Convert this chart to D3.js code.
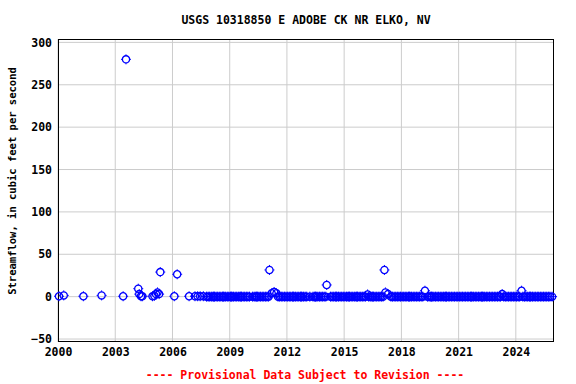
<!DOCTYPE html>
<html>
<head>
<meta charset="utf-8">
<script src="https://cdn.jsdelivr.net/npm/d3@7"></script>
<style>
  body { margin: 0; background: #fff; }
  text { font-family: "DejaVu Sans Mono", monospace; font-weight: bold; font-size: 11.5px; }
</style>
</head>
<body>
<div id="chart"></div>
<script>
'use strict'
// chart size
let width = 576
let height = 384
let margin = { top: 39, right: 22, bottom: 42, left: 58 }

// scattered measurements (date, cfs)
let sampleDates = [
  "2000-01-20", "2000-04-20", "2001-05-01", "2002-04-15", "2003-06-01",
  "2003-07-26", "2004-03-17", "2004-04-05", "2004-05-08", "2004-06-03",
  "2004-12-15", "2005-01-20", "2005-02-20", "2005-03-20", "2005-04-20",
  "2005-05-12", "2006-02-05", "2006-04-01", "2006-11-15", "2007-03-08",
  "2007-04-28", "2007-06-15", "2007-08-15",
  "2011-02-01", "2011-03-15", "2011-05-01", "2011-06-15",
  "2014-02-01", "2016-03-25", "2017-02-10", "2017-03-01", "2017-04-20",
  "2019-03-28", "2023-04-15", "2024-04-20", "2025-11-25"
]
let sampleFlows = [
  0.5, 1.5, 0.5, 1.5, 0.5,
  280, 9.4, 3, 0.5, 0.5,
  0.5, 1, 3, 5, 3,
  29, 0.5, 26.4, 0.5, 0.5,
  0.5, 0.5, 0.5,
  31.5, 4, 5.5, 4,
  13.8, 2.6, 31.5, 5, 3,
  7, 3, 7, 0
]

// near-zero readings: days of month with a reading, one row per month run
let baseYears = [2007, 2008, 2009, 2010, 2011, 2012, 2013, 2014, 2015, 2016,
                 2017, 2018, 2019, 2020, 2021, 2022, 2023, 2024, 2025]
let baseMonths = [
  [10, 11, 12],
  [1, 2, 3, 4, 5, 6, 7, 8, 9, 10, 11, 12],
  [1, 2, 3, 4, 5, 6, 7, 8, 9, 10, 11, 12],
  [1, 3, 4, 5, 6, 7, 8, 9, 10, 11, 12],
  [1, 7, 8, 9, 10, 11, 12],
  [1, 2, 3, 4, 5, 6, 7, 8, 9, 10, 11, 12],
  [1, 3, 5, 6, 7, 8, 9, 10, 11, 12],
  [1, 4, 5, 6, 7, 8, 9, 10, 11, 12],
  [1, 2, 3, 4, 5, 6, 7, 8, 9, 10, 11, 12],
  [1, 2, 4, 5, 6, 7, 8, 9, 10, 11, 12],
  [1, 6, 7, 8, 9, 10, 11, 12],
  [1, 2, 3, 4, 5, 6, 7, 8, 9, 10, 11, 12],
  [1, 2, 5, 6, 7, 8, 9, 10, 11, 12],
  [1, 2, 3, 4, 5, 6, 7, 8, 9, 10, 11, 12],
  [1, 2, 3, 4, 5, 6, 7, 8, 9, 10, 11, 12],
  [1, 2, 3, 4, 5, 6, 7, 8, 9, 10, 11, 12],
  [1, 2, 3, 5, 6, 7, 8, 9, 10, 11, 12],
  [1, 2, 3, 5, 6, 7, 8, 9, 10, 11, 12],
  [1, 2, 3, 4, 5, 6, 7, 8, 9, 10]
]
// second reading in some months (year, month)
let extraYears = [2008, 2008, 2009, 2009, 2010, 2012, 2012, 2013, 2014, 2015, 2015, 2016, 2018, 2019, 2020, 2021, 2022, 2024]
let extraMonths = [3, 9, 2, 8, 6, 5, 10, 7, 8, 4, 9, 7, 6, 8, 5, 9, 4, 10]
let baseFlow = 0

let yTicks = [-50, 0, 50, 100, 150, 200, 250, 300]
let xTickYears = [2000, 2003, 2006, 2009, 2012, 2015, 2018, 2021, 2024]

let title = "USGS 10318850 E ADOBE CK NR ELKO, NV"
let yTitle = "Streamflow, in cubic feet per second"
let footer = "---- Provisional Data Subject to Revision ----"

/*
  build points
*/
let parse = d3.timeParse("%Y-%m-%d")
let points = []
sampleDates.forEach(function (d, i) {
  points.push({ date: parse(d), flow: sampleFlows[i] })
})
baseYears.forEach(function (yr, i) {
  baseMonths[i].forEach(function (m) {
    points.push({ date: new Date(yr, m - 1, 15), flow: baseFlow })
  })
})
extraYears.forEach(function (yr, i) {
  points.push({ date: new Date(yr, extraMonths[i] - 1, 1), flow: baseFlow })
})

let svg = d3.select("#chart").append("svg")
  .attr("width", width)
  .attr("height", height)

let x = d3.scaleTime()
  .domain([new Date(2000, 0, 1), new Date(2026, 0, 1)])
  .range([margin.left, width - margin.right])

let y = d3.scaleLinear()
  .domain([-53.5, 304])
  .range([height - margin.bottom, margin.top])

// grid
svg.append("g")
  .selectAll("line.gx")
  .data(xTickYears)
  .enter().append("line")
  .attr("x1", d => x(new Date(d, 0, 1))).attr("x2", d => x(new Date(d, 0, 1)))
  .attr("y1", margin.top).attr("y2", height - margin.bottom)
  .style("stroke", "#cccccc")

svg.append("g")
  .selectAll("line.gy")
  .data(yTicks)
  .enter().append("line")
  .attr("x1", margin.left).attr("x2", width - margin.right)
  .attr("y1", d => y(d)).attr("y2", d => y(d))
  .style("stroke", "#cccccc")

// axes labels
let yAxis = d3.axisLeft(y).tickValues(yTicks).tickSize(0).tickPadding(6)
let gy = svg.append("g")
  .attr("transform", "translate(" + margin.left + ",0)")
  .call(yAxis)
gy.select(".domain").remove()

let xAxis = d3.axisBottom(x)
  .tickValues(xTickYears.map(d => new Date(d, 0, 1)))
  .tickFormat(d3.timeFormat("%Y"))
  .tickSize(0).tickPadding(6)
let gx = svg.append("g")
  .attr("transform", "translate(0," + (height - margin.bottom) + ")")
  .call(xAxis)
gx.select(".domain").remove()

svg.selectAll(".tick text")
  .style("font-family", "DejaVu Sans Mono")
  .style("font-weight", "bold")
  .style("font-size", "11.5px")
  .attr("fill", "#000")

// frame
svg.append("rect")
  .attr("x", margin.left + 0.5).attr("y", margin.top + 0.5)
  .attr("width", width - margin.left - margin.right - 1)
  .attr("height", height - margin.top - margin.bottom - 1)
  .style("fill", "none").style("stroke", "#000")

// points: open circles with little cross ticks
let r = 3.6
let pts = svg.append("g")
  .selectAll("g.pt")
  .data(points)
  .enter().append("g")
  .attr("transform", d => "translate(" + x(d.date) + "," + y(d.flow) + ")")

pts.append("circle")
  .attr("r", r)
  .style("fill", "none")
  .style("stroke", "#0000ff")
  .style("stroke-width", 1.3)

pts.append("path")
  .attr("d", "M0," + (-r - 1.4) + "V" + (-r) + "M0," + r + "V" + (r + 1.4) +
             "M" + (-r - 1.4) + ",0H" + (-r) + "M" + r + ",0H" + (r + 1.4))
  .style("stroke", "#0000ff")
  .style("stroke-width", 1)

// titles
svg.append("text")
  .attr("x", 306).attr("y", 24)
  .attr("text-anchor", "middle")
  .text(title)

svg.append("text")
  .attr("text-anchor", "middle")
  .attr("transform", "translate(" + 16 + "," + 181 + ")rotate(-90)")
  .style("font-size", "10.5px")
  .text(yTitle)

svg.append("text")
  .attr("x", 305).attr("y", 379)
  .attr("text-anchor", "middle")
  .style("fill", "#ff0000")
  .text(footer)
</script>
</body>
</html>
